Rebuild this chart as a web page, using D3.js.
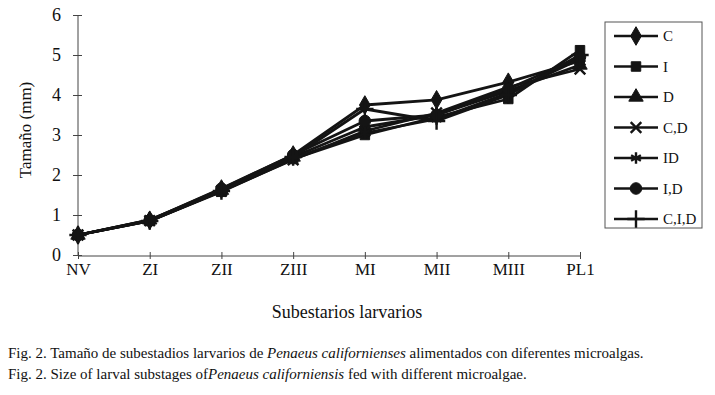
<!DOCTYPE html>
<html>
<head>
<meta charset="utf-8">
<script src="https://cdn.jsdelivr.net/npm/d3@7"></script>
<style>
  body { margin: 0; background: #fff; }
  svg text { font-family: "Liberation Serif", "Times New Roman", serif; fill: #111; }
  .axis path, .axis line { stroke: #444; stroke-width: 1; }
  .caption { font-size: 15px; }
</style>
</head>
<body>
<svg width="715" height="395"></svg>
<script>
// **** Data ****
var stages = ['NV', 'ZI', 'ZII', 'ZIII', 'MI', 'MII', 'MIII', 'PL1'];
var yTicks = [0, 1, 2, 3, 4, 5, 6];
var seriesNames = ['C', 'I', 'D', 'C,D', 'ID', 'I,D', 'C,I,D'];

var sizeC   = [0.50, 0.87, 1.65, 2.50, 3.75, 3.88, 4.32, 4.85];
var sizeI   = [0.50, 0.85, 1.58, 2.40, 3.00, 3.45, 3.90, 5.12];
var sizeD   = [0.50, 0.88, 1.62, 2.45, 3.20, 3.50, 4.10, 4.75];
var sizeCD  = [0.50, 0.86, 1.60, 2.38, 3.10, 3.55, 4.20, 4.65];
var sizeID  = [0.50, 0.85, 1.60, 2.42, 3.05, 3.40, 4.05, 4.90];
var sizeI_D = [0.50, 0.87, 1.66, 2.50, 3.35, 3.50, 4.15, 4.95];
var sizeCID = [0.50, 0.85, 1.60, 2.45, 3.65, 3.35, 4.00, 5.00];

var allSeries = [sizeC, sizeI, sizeD, sizeCD, sizeID, sizeI_D, sizeCID];

// **** Scales ****
var xScale = d3.scalePoint().domain(stages).range([78, 580]);
var yScale = d3.scaleLinear().domain([0, 6]).range([255, 15]);

var symbolTypes = [d3.symbolDiamond, d3.symbolSquare, d3.symbolTriangle,
                   d3.symbolX, d3.symbolAsterisk, d3.symbolCircle, d3.symbolPlus];
var symbolSizes = [100, 90, 90, 75, 90, 105, 100];
var filled = [true, true, true, false, false, true, false];

var ink = '#141414';
var svg = d3.select('svg');

// **** Axes ****
var yAxis = svg.append('g').attr('class', 'y axis')
    .attr('transform', 'translate(78,0)')
    .call(d3.axisLeft(yScale).tickValues(yTicks).tickSize(5).tickPadding(12).tickFormat(d3.format('d')));
yAxis.select('.domain').attr('d', 'M0,' + yScale(6) + 'V' + yScale(0));
yAxis.selectAll('.tick line').attr('x1', 4);
yAxis.selectAll('.tick text').style('font-size', '18px');

var xAxis = svg.append('g').attr('class', 'x axis')
    .attr('transform', 'translate(0,256)')
    .call(d3.axisBottom(xScale).tickSize(3).tickPadding(4));
xAxis.select('.domain').attr('d', 'M' + xScale('NV') + ',0H' + xScale('PL1'));
xAxis.selectAll('.tick line').attr('y1', -4);
xAxis.selectAll('.tick text').style('font-size', '17px');

svg.append('text')
    .text('Tamaño (mm)')
    .style('font-size', '17px')
    .attr('text-anchor', 'middle')
    .attr('transform', 'translate(31,130) rotate(-90)');

svg.append('text')
    .text('Subestarios larvarios')
    .style('font-size', '18px')
    .attr('text-anchor', 'middle')
    .attr('x', 347).attr('y', 318);

// **** Lines and markers ****
var line = d3.line()
    .x(function(d, i) { return xScale(stages[i]); })
    .y(function(d) { return yScale(d); });

allSeries.forEach(function(values, s) {
    svg.append('path')
        .datum(values)
        .attr('d', line)
        .attr('fill', 'none')
        .attr('stroke', ink)
        .attr('stroke-width', 2.8)
        .attr('stroke-linejoin', 'round');
});

allSeries.forEach(function(values, s) {
    var sym = d3.symbol().type(symbolTypes[s]).size(symbolSizes[s]);
    svg.append('g').selectAll('path')
        .data(values)
        .join('path')
        .attr('transform', function(d, i) { return 'translate(' + xScale(stages[i]) + ',' + yScale(d) + ')'; })
        .attr('d', sym)
        .attr('fill', filled[s] ? ink : 'none')
        .attr('stroke', ink)
        .attr('stroke-width', filled[s] ? 1 : 2.4);
});

// **** Legend ****
var legend = svg.append('g').attr('transform', 'translate(605,22)');
legend.append('rect')
    .attr('width', 97).attr('height', 206)
    .attr('fill', 'none').attr('stroke', '#555').attr('stroke-width', 1);

seriesNames.forEach(function(name, s) {
    var row = legend.append('g').attr('transform', 'translate(0,' + (14 + s * 30.5) + ')');
    row.append('line')
        .attr('x1', 9).attr('x2', 53)
        .attr('stroke', ink).attr('stroke-width', 2.4);
    row.append('path')
        .attr('transform', 'translate(31,0)')
        .attr('d', d3.symbol().type(symbolTypes[s]).size(symbolSizes[s])())
        .attr('fill', filled[s] ? ink : 'none')
        .attr('stroke', ink)
        .attr('stroke-width', filled[s] ? 1 : 2.4);
    row.append('text')
        .text(name)
        .attr('x', 58).attr('dy', '0.35em')
        .style('font-size', '15px');
});

// **** Caption ****
var cap1 = svg.append('text').attr('class', 'caption').attr('x', 8).attr('y', 358);
cap1.append('tspan').text('Fig. 2. Tamaño de subestadios larvarios de ');
cap1.append('tspan').style('font-style', 'italic').text('Penaeus californienses');
cap1.append('tspan').text(' alimentados con diferentes microalgas.');

var cap2 = svg.append('text').attr('class', 'caption').attr('x', 8).attr('y', 379);
cap2.append('tspan').text('Fig. 2. Size of larval substages of');
cap2.append('tspan').style('font-style', 'italic').text('Penaeus californiensis');
cap2.append('tspan').text(' fed with different microalgae.');
</script>
</body>
</html>
